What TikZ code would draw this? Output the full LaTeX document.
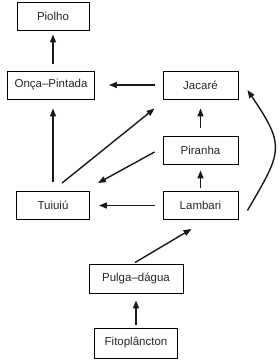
\documentclass[tikz,border=0pt]{standalone}
\usepackage{fontspec}
\setmainfont{Liberation Sans}
\usetikzlibrary{arrows.meta,calc}

\begin{document}
\begin{tikzpicture}[
  x=1pt,y=-1pt,
  every node/.style={font=\fontsize{11.5}{13}\selectfont,text=black!85},
  foodbox/.style={draw,line width=0.9pt,minimum height=28pt,inner sep=2pt},
  feeds/.style={-{Triangle[length=8pt,width=6pt]},line width=1.4pt,black!90},
]
  \useasboundingbox (0,0) rectangle (279,362);

  % Organisms
  \node[foodbox,minimum width=72pt] (piolho) at (53,16) {Piolho};
  \node[foodbox,minimum width=87pt] (onca) at (51,85) {Onça–Pintada};
  \node[foodbox,minimum width=75pt] (jacare) at (200.5,85) {Jacaré};
  \node[foodbox,minimum width=75pt] (piranha) at (200.5,150) {Piranha};
  \node[foodbox,minimum width=73pt] (tuiuiu) at (53,205.5) {Tuiuiú};
  \node[foodbox,minimum width=75pt] (lambari) at (200.5,205.5) {Lambari};
  \node[foodbox,minimum width=94pt,minimum height=29pt] (pulga) at (136,278.5) {Pulga–dágua};
  \node[foodbox,minimum width=83pt,minimum height=30pt] (fito) at (136,343) {Fitoplâncton};

  % Arrows
  \draw[feeds,shorten <=7pt,shorten >=4pt] (onca.north -| piolho) -- (piolho.south);
  \draw[feeds,shorten <=8pt,shorten >=14pt] (jacare.west) -- (onca.east);
  \draw[feeds,shorten <=9pt,shorten >=9pt] (tuiuiu.north) -- (onca.south -| tuiuiu);
  \draw[feeds] ($(tuiuiu.north)+(9,-8)$) -- ($(jacare.south west)+(-8,9)$);
  \draw[feeds] ($(piranha.west)+(-8,2)$) -- ($(tuiuiu.north east)+(8,-8)$);
  \draw[feeds,shorten <=8pt,shorten >=9pt] (piranha.north) -- (jacare.south);
  \draw[feeds,shorten <=8pt,shorten >=9pt] (lambari.west) -- (tuiuiu.east);
  \draw[feeds,shorten <=3pt,shorten >=6pt] (lambari.north) -- (piranha.south);
  \draw[feeds] ($(lambari.east)+(9,5)$) .. controls (282,151) and (286,147) .. ($(jacare.east)+(9,5)$);
  \draw[feeds] ($(pulga.north)+(-1,-1)$) -- ($(lambari.south west)+(29,9)$);
  \draw[feeds,shorten <=3pt,shorten >=7pt] (fito.north) -- (pulga.south);
\end{tikzpicture}
\end{document}
